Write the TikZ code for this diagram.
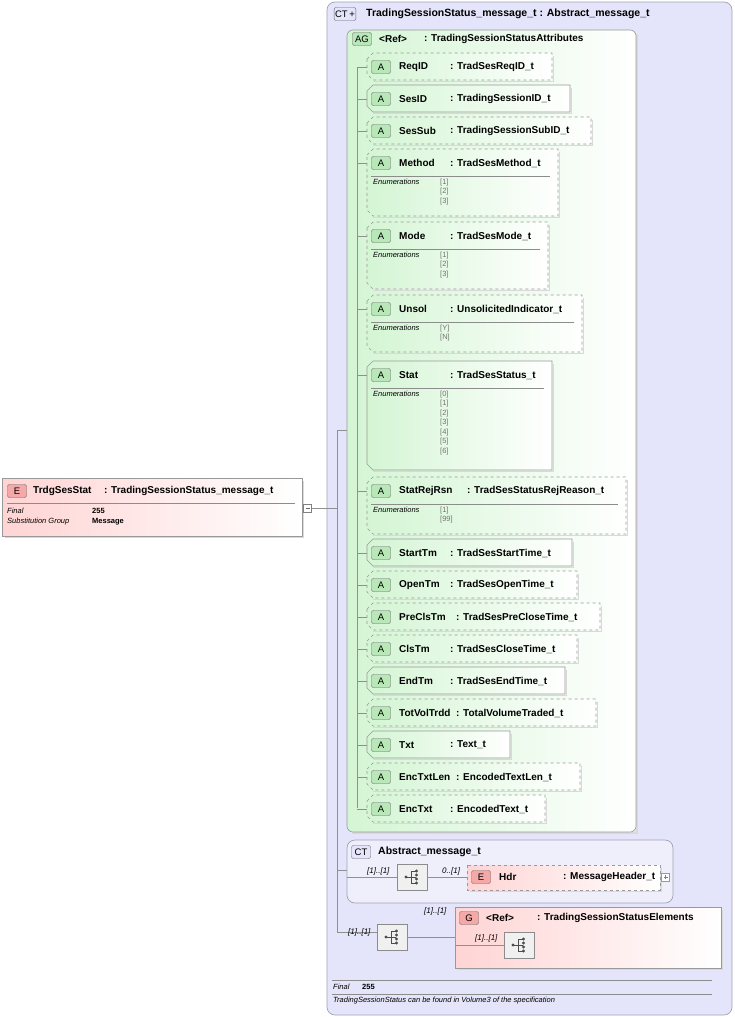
\documentclass[tikz,border=0pt]{standalone}
\usepackage{fontspec}
\setmainfont{Liberation Sans}
\usetikzlibrary{calc}
\definecolor{ctfill}{HTML}{E4E4FA}
\definecolor{ctline}{HTML}{A0A0B8}
\definecolor{agfill}{HTML}{D4F5D4}
\definecolor{badgeg}{HTML}{B8E8B8}
\definecolor{pinkf}{HTML}{FFD4D4}
\definecolor{badgep}{HTML}{F4A8A8}
\definecolor{conn}{HTML}{909090}
\tikzset{
  box/.style={draw=black!40, line width=0.6pt},
  conn/.style={draw=conn, line width=0.5pt},
  lbl/.style={anchor=west, inner sep=0pt, font=\fontsize{10}{12}\selectfont\bfseries},
  sm/.style={anchor=west, inner sep=0pt, font=\fontsize{7.5}{9}\selectfont},
  smi/.style={sm, font=\fontsize{7.5}{9}\selectfont\itshape},
  card/.style={anchor=west, inner sep=0pt, font=\fontsize{8}{9}\selectfont\itshape},
  badge/.style={draw=black!60, rounded corners=2pt, minimum width=19pt, minimum height=13pt, inner sep=1pt, font=\fontsize{9.5}{10}\selectfont},
  seq/.style={draw=black!45, fill=black!6, minimum width=30pt, minimum height=26pt, inner sep=0pt},
}
\newcommand{\seqicon}[1]{%
  \fill[black!70] ($(#1)+(-6,0)$) circle (1.6);
  \draw[black!70, line width=0.8pt] ($(#1)+(-6,0)$) -- ($(#1)+(-1,0)$)
    ($(#1)+(-1,-6)$) -- ($(#1)+(-1,6)$)
    ($(#1)+(-1,-6)$) -- ($(#1)+(4,-6)$) ($(#1)+(-1,0)$) -- ($(#1)+(4,0)$) ($(#1)+(-1,6)$) -- ($(#1)+(4,6)$);
  \foreach \d in {-6,-2,2,6} \fill[black!70] ($(#1)+(4.5,\d)$) circle (1.7);}
% #1 top, #2 right, #3 bottom, #4 name, #5 type, #6 line style, #7 colon x
\newcommand{\attr}[7]{%
  \draw[black!15, line width=1.4pt] ({#2+1.5},{#1+3}) -- ({#2+1.5},{#3+1.5}) -- ({373},{#3+1.5});
  \path[box, #6, left color=agfill, right color=white]
    (367,{#1+6}) -- (373,#1) -- (#2,#1) -- (#2,#3) -- (373,#3) -- (367,{#3-6}) -- cycle;
  \node[badge, fill=badgeg] (b#4) at (381,{#1+14}) {A};
  \node[lbl] (n#4) at (399,{#1+14}) {#4};
  \node[lbl] (t#4) at (#7,{#1+14}) {: #5};
  \draw[conn] (357,{#1+14}) -- (367,{#1+14});}
% #1 top, #2 right, #3 values
\newcommand{\enums}[3]{%
  \draw[black!45] (371,{#1+27}) -- ({#2-8},{#1+27});
  \node[smi] at (373,{#1+33}) {Enumerations};
  \foreach \v [count=\i] in {#3} \node[sm, text=black!55] at (440,{#1+24+9.5*\i}) {[\v]};}
\begin{document}
\begin{tikzpicture}[x=1pt,y=-1pt]
\useasboundingbox (0,0) rectangle (735,1017);
% complex type
\draw[ctline, fill=ctfill, rounded corners=8pt, line width=0.7pt] (327,2) rectangle (732,1015);
\node[badge, fill=ctfill, draw=black!60] (ctb) at (345,14) {CT\,+};
\node[lbl, font=\fontsize{10.5}{12}\selectfont\bfseries] (ctn) at (366,14) {TradingSessionStatus\_message\_t : Abstract\_message\_t};
% attribute group
\draw[black!15, line width=1.4pt] (637,34) -- (637,833) -- (352,833);
\path[box, left color=agfill, right color=white, rounded corners=6pt] (347,30) rectangle (636,832);
\node[badge, fill=badgeg] (agb) at (362,39) {AG};
\node[lbl] (agr) at (379,39) {<Ref>};
\node[lbl] (agt) at (424,39) {: TradingSessionStatusAttributes};
\draw[conn] (357,67) -- (357,808);
\attr{53}{552}{80}{ReqID}{TradSesReqID\_t}{dashed}{450}
\attr{85}{570}{112}{SesID}{TradingSessionID\_t}{solid}{450}
\attr{117}{591}{144}{SesSub}{TradingSessionSubID\_t}{dashed}{450}
\attr{149}{558}{216}{Method}{TradSesMethod\_t}{dashed}{450}
\enums{149}{558}{1,2,3}
\attr{222}{548}{289}{Mode}{TradSesMode\_t}{dashed}{450}
\enums{222}{548}{1,2,3}
\attr{295}{582}{352}{Unsol}{UnsolicitedIndicator\_t}{dashed}{450}
\enums{295}{582}{Y,N}
\attr{361}{552}{470}{Stat}{TradSesStatus\_t}{solid}{450}
\enums{361}{552}{0,1,2,3,4,5,6}
\attr{477}{626}{534}{StatRejRsn}{TradSesStatusRejReason\_t}{dashed}{467}
\enums{477}{626}{1,99}
\attr{539}{572}{566}{StartTm}{TradSesStartTime\_t}{solid}{450}
\attr{571}{577}{598}{OpenTm}{TradSesOpenTime\_t}{dashed}{450}
\attr{603}{600}{630}{PreClsTm}{TradSesPreCloseTime\_t}{dashed}{456}
\attr{635}{577}{662}{ClsTm}{TradSesCloseTime\_t}{dashed}{450}
\attr{667}{565}{694}{EndTm}{TradSesEndTime\_t}{solid}{450}
\attr{699}{596}{726}{TotVolTrdd}{TotalVolumeTraded\_t}{dashed}{456}
\attr{731}{510}{758}{Txt}{Text\_t}{solid}{450}
\attr{763}{580}{790}{EncTxtLen}{EncodedTextLen\_t}{dashed}{456}
\attr{795}{545}{822}{EncTxt}{EncodedText\_t}{dashed}{450}
% element
\draw[black!15, line width=1.4pt] (303,481) -- (303,537) -- (5,537);
\path[box, left color=pinkf, right color=white] (2,478) rectangle (302,536);
\node[badge, fill=badgep] (eb) at (17,491) {E};
\node[lbl] (en) at (33,491) {TrdgSesStat};
\node[lbl] (et) at (104,491) {: TradingSessionStatus\_message\_t};
\draw[black!45] (7,503) -- (295,503);
\node[smi] at (7,511) {Final};
\node[sm, font=\fontsize{7.5}{9}\selectfont\bfseries] at (92,511) {255};
\node[smi] at (7,522) {Substitution Group};
\node[sm, font=\fontsize{7.5}{9}\selectfont\bfseries] at (92,522) {Message};
\node[draw=black!50, fill=white, minimum size=8pt, inner sep=0pt] (em) at (307.5,508) {};
\draw[black!60] (305.5,508) -- (309.5,508);
\coordinate (j) at (337,508);
\draw[conn] (em) -- (j);
\draw[conn] (337,430) -- (337,932);
\draw[conn] (337,430) -- (347,430);
% abstract message
\draw[ctline, fill=ctfill!60, rounded corners=8pt, line width=0.7pt] (347,840) rectangle (673,903);
\node[badge, fill=ctfill, draw=black!60] (ct2) at (361,852) {CT};
\node[lbl, font=\fontsize{10.5}{12}\selectfont\bfseries] (ct2n) at (378,852) {Abstract\_message\_t};
\draw[conn] (337,870) -- (347,870);
\node[seq] (s1) at (412,877) {};
\seqicon{s1}
\draw[conn] (347,877) -- (s1.west);
\node[card] at (367,871) {[1]..[1]};
\draw[black!15, line width=1.4pt] (661,868) -- (661,891) -- (470,891);
\path[box, dashed, left color=pinkf, right color=white] (467,865) rectangle (660,890);
\node[badge, fill=badgep] (hb) at (481,877) {E};
\node[lbl] (hn) at (499,877) {Hdr};
\node[lbl] (ht) at (563,877) {: MessageHeader\_t};
\node[draw=black!40, fill=white, minimum size=8pt, inner sep=0pt] (hp) at (665.5,877) {};
\draw[black!50] (663.5,877) -- (667.5,877) (665.5,875) -- (665.5,879);
\draw[conn] (s1.east) -- (467,877);
\node[card] at (442,871) {0..[1]};
% sequence + group
\node[seq] (s2) at (392,937) {};
\seqicon{s2}
\draw[conn] (337,932) -- (s2.west |- 0,932);
\node[card] at (348,932) {[1]..[1]};
\draw[black!15, line width=1.4pt] (722,910) -- (722,969) -- (458,969);
\path[box, left color=pinkf, right color=white] (455,907) rectangle (721,968);
\draw[conn] (s2.east) -- (455,937);
\node[card] at (424,911) {[1]..[1]};
\node[badge, fill=badgep] (gb) at (469,918) {G};
\node[lbl] (gr) at (486,918) {<Ref>};
\node[lbl] (gt) at (537,918) {: TradingSessionStatusElements};
\node[seq] (s3) at (519,945) {};
\seqicon{s3}
\draw[conn] (455,945) -- (s3.west);
\node[card] at (475,938) {[1]..[1]};
% footer
\draw[black!45] (332,980) -- (712,980);
\node[smi] at (333,987) {Final};
\node[sm, font=\fontsize{7.5}{9}\selectfont\bfseries] at (362,987) {255};
\draw[black!45] (332,994) -- (712,994);
\node[smi] at (333,1001) {TradingSessionStatus can be found in Volume3 of the specification};
\end{tikzpicture}
\end{document}
